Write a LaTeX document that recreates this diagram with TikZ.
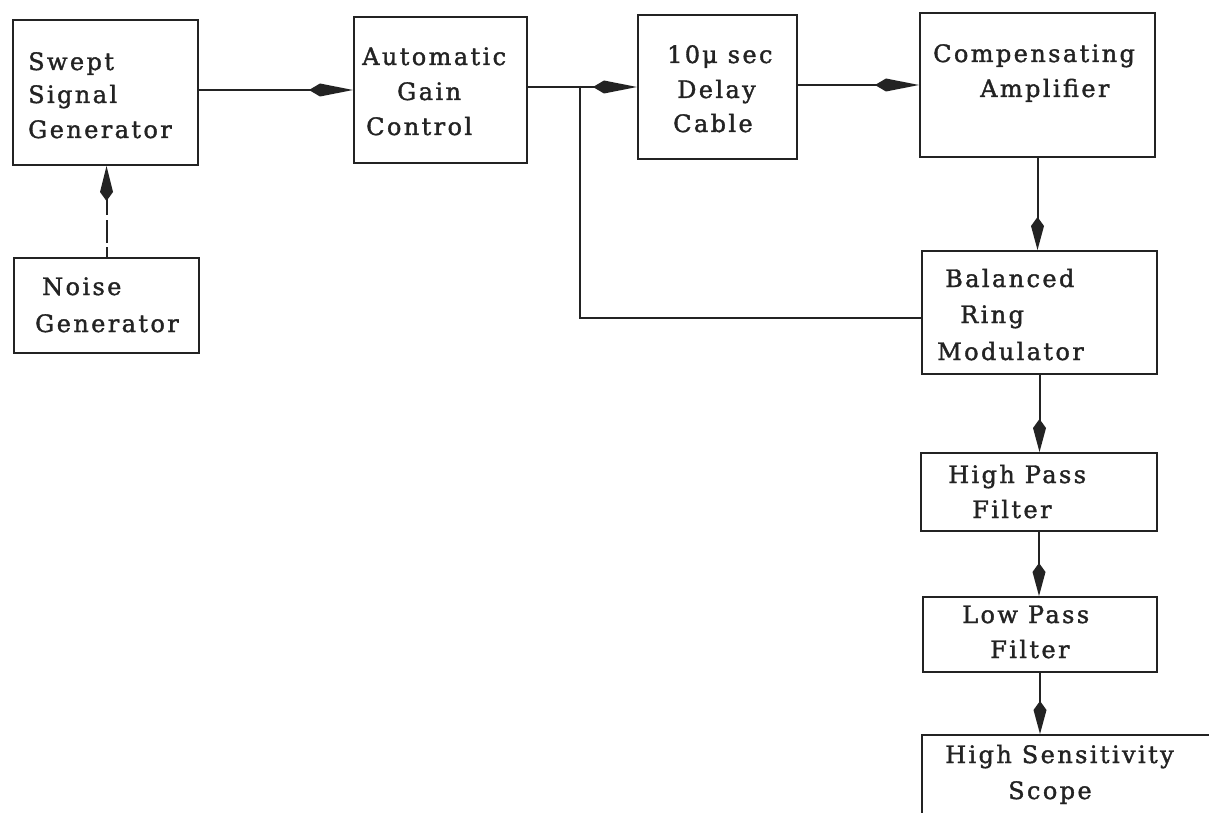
\documentclass[tikz,border=0pt]{standalone}
\usepackage{fontspec}
\setmainfont{DejaVu Serif}[LetterSpace=10, FakeBold=1.5]
\usetikzlibrary{arrows.meta}
\definecolor{ink}{RGB}{35,35,35}
\begin{document}
\begin{tikzpicture}[x=1pt,y=-1pt,
  box/.style={draw=ink, line width=2pt, rectangle, inner sep=0pt, anchor=north west},
  txt/.style={anchor=base west, inner sep=0pt, text=ink, font=\fontsize{24}{28}\selectfont},
  conn/.style={draw=ink, line width=2pt},
  harr/.style={conn, -{Kite[length=44pt,width=13pt,inset=11pt]}},
  varr/.style={conn, -{Kite[length=33pt,width=13pt,inset=9pt]}},
]
\useasboundingbox (0,0) rectangle (1209,813);
\clip (0,0) rectangle (1209,813);
\fill[white] (0,0) rectangle (1209,813);

% boxes
\node[box, minimum width=185pt, minimum height=145pt] (swept) at (12,19) {};
\node[box, minimum width=185pt, minimum height=95pt]  (noise) at (13,257) {};
\node[box, minimum width=173pt, minimum height=146pt] (agc)   at (353,16) {};
\node[box, minimum width=159pt, minimum height=144pt] (delay) at (637,14) {};
\node[box, minimum width=235pt, minimum height=144pt] (comp)  at (919,12) {};
\node[box, minimum width=235pt, minimum height=123pt] (bal)   at (921,250) {};
\node[box, minimum width=236pt, minimum height=78pt]  (hp)    at (920,452) {};
\node[box, minimum width=234pt, minimum height=75pt]  (lp)    at (922,596) {};
\node[box, minimum width=320pt, minimum height=120pt] (scope) at (921,734) {};

% texts
\node[txt] (t1a) at (28,70) {Swept};
\node[txt] (t1b) at (28,103) {Signal};
\node[txt] (t1c) at (28,138) {Generator};
\node[txt] (t2a) at (42,295) {Noise};
\node[txt] (t2b) at (35,332) {Generator};
\node[txt] (t3a) at (362,65) {Automatic};
\node[txt] (t3b) at (397,100) {Gain};
\node[txt] (t3c) at (366,135) {Control};
\node[txt] (t4a) at (667,63) {10\kern2pt μ sec};
\node[txt] (t4b) at (677,98) {Delay};
\node[txt] (t4c) at (673,132) {Cable};
\node[txt] (t5a) at (933,62) {Compensating};
\node[txt] (t5b) at (980,97) {Amplifier};
\node[txt] (t6a) at (945,287) {Balanced};
\node[txt] (t6b) at (960,323) {Ring};
\node[txt] (t6c) at (937,360) {Modulator};
\node[txt] (t7a) at (948,483) {High Pass};
\node[txt] (t7b) at (972,518) {Filter};
\node[txt] (t8a) at (962,623) {Low Pass};
\node[txt] (t8b) at (990,658) {Filter};
\node[txt] (t9a) at (945,763) {High Sensitivity};
\node[txt] (t9b) at (1008,799) {Scope};

% connectors
\draw[harr] (swept.east |- agc.west) -- (agc.west);
\draw[harr] (agc.east |- delay.west) -- (delay.west);
\draw[harr] (delay.east |- comp.west) -- (comp.west);
\coordinate (br) at (580,86);
\draw[conn] (br) |- ([yshift=-5pt]bal.west);
\draw[varr] (comp.south) -- (comp.south |- bal.north);
\draw[varr] (bal.south) -- (bal.south |- hp.north);
\draw[varr] (hp.south) -- (hp.south |- lp.north);
\draw[varr] (lp.south) -- (lp.south |- scope.north);
\draw[conn, dash pattern={on 10pt off 4pt on 23pt off 5pt on 40pt off 0pt}, -{Kite[length=35pt,width=13pt,inset=9pt]}] (noise.north) -- (noise.north |- swept.south);
\end{tikzpicture}
\end{document}
